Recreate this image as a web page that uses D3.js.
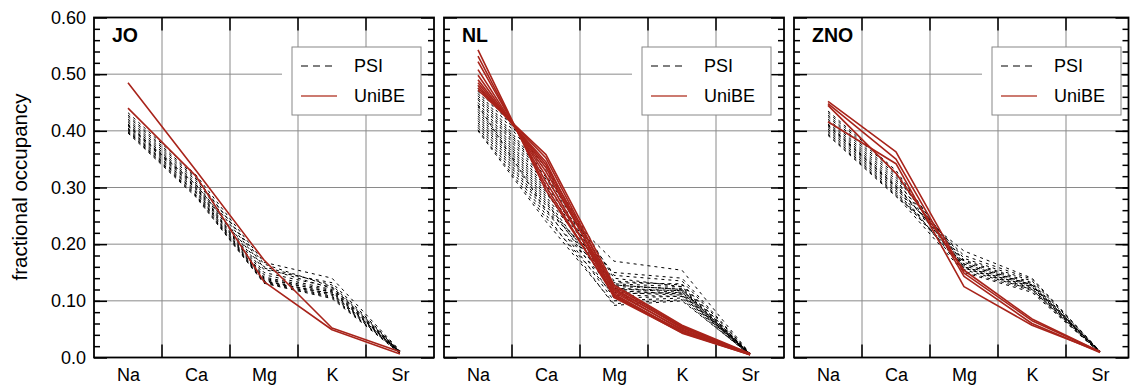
<!DOCTYPE html>
<html><head><meta charset="utf-8">
<script src="https://cdn.jsdelivr.net/npm/d3@7"></script>
<style>
body{margin:0;background:#fff;}
svg{display:block;font-family:"Liberation Sans",Arial,sans-serif;}
</style></head>
<body><svg id="c" width="1130" height="387"></svg>
<script>
const elements = ["Na","Ca","Mg","K","Sr"];
const panelNames = ["JO","NL","ZNO"];
const yTickValues = [0,0.1,0.2,0.3,0.4,0.5,0.6];
const yTickLabels = ["0.0","0.10","0.20","0.30","0.40","0.50","0.60"];
const legendLabels = ["PSI","UniBE"];

const psiJO = [
 [0.432,0.322,0.168,0.140,0.012],[0.428,0.318,0.160,0.128,0.010],[0.425,0.315,0.165,0.125,0.011],
 [0.421,0.312,0.158,0.122,0.009],[0.418,0.308,0.150,0.124,0.010],[0.415,0.305,0.146,0.120,0.008],
 [0.412,0.302,0.142,0.118,0.009],[0.410,0.300,0.140,0.115,0.010],[0.408,0.298,0.138,0.116,0.008],
 [0.405,0.295,0.136,0.112,0.009],[0.403,0.292,0.135,0.110,0.007],[0.401,0.290,0.134,0.113,0.010],
 [0.399,0.287,0.133,0.108,0.008],[0.398,0.285,0.132,0.106,0.009],[0.396,0.283,0.131,0.104,0.007],
 [0.410,0.305,0.155,0.132,0.011]
];
const uniJO = [
 [0.485,0.330,0.172,0.052,0.010],
 [0.440,0.320,0.134,0.049,0.006]
];
const psiNL = [
 [0.480,0.335,0.140,0.125,0.006],[0.475,0.330,0.128,0.120,0.005],[0.470,0.322,0.135,0.128,0.006],
 [0.466,0.318,0.122,0.118,0.005],[0.462,0.315,0.145,0.135,0.007],[0.458,0.310,0.118,0.112,0.005],
 [0.455,0.305,0.130,0.125,0.006],[0.450,0.300,0.125,0.122,0.005],[0.446,0.296,0.112,0.115,0.004],
 [0.442,0.292,0.120,0.118,0.006],[0.438,0.288,0.170,0.154,0.007],[0.434,0.284,0.132,0.130,0.005],
 [0.430,0.280,0.115,0.110,0.006],[0.426,0.276,0.105,0.108,0.005],[0.422,0.272,0.128,0.120,0.006],
 [0.418,0.268,0.122,0.115,0.005],[0.414,0.262,0.100,0.105,0.004],[0.410,0.258,0.118,0.112,0.006],
 [0.406,0.252,0.092,0.100,0.005],[0.402,0.246,0.110,0.108,0.005],[0.400,0.240,0.095,0.102,0.004],
 [0.445,0.260,0.150,0.140,0.007]
];
const uniNL = [
 [0.543,0.295,0.112,0.045,0.006],[0.532,0.302,0.108,0.043,0.005],[0.522,0.310,0.118,0.048,0.006],
 [0.508,0.320,0.110,0.046,0.006],[0.498,0.328,0.122,0.052,0.006],[0.490,0.335,0.115,0.050,0.005],
 [0.485,0.340,0.125,0.055,0.006],[0.480,0.345,0.106,0.044,0.005],[0.476,0.352,0.120,0.054,0.006],
 [0.472,0.358,0.128,0.057,0.007]
];
const psiZNO = [
 [0.435,0.330,0.160,0.125,0.010],[0.432,0.326,0.165,0.128,0.011],[0.428,0.322,0.158,0.122,0.009],
 [0.425,0.318,0.170,0.130,0.010],[0.421,0.314,0.155,0.120,0.008],[0.418,0.310,0.175,0.135,0.011],
 [0.415,0.306,0.162,0.126,0.009],[0.412,0.303,0.168,0.128,0.010],[0.409,0.300,0.152,0.118,0.008],
 [0.406,0.297,0.180,0.138,0.011],[0.403,0.294,0.160,0.124,0.009],[0.400,0.291,0.158,0.120,0.010],
 [0.397,0.288,0.165,0.128,0.009],[0.394,0.286,0.150,0.115,0.008],[0.392,0.284,0.188,0.140,0.011],
 [0.410,0.302,0.172,0.132,0.010]
];
const uniZNO = [
 [0.452,0.363,0.149,0.065,0.010],
 [0.448,0.350,0.143,0.060,0.009],
 [0.445,0.325,0.154,0.068,0.010],
 [0.416,0.342,0.125,0.057,0.010]
];
const psiData = [psiJO, psiNL, psiZNO];
const uniData = [uniJO, uniNL, uniZNO];

const svg = d3.select("#c");
const W = 340, H = 340, topY = 17.5;
const lefts = [94, 444, 794];
const red = "#a8231a";
const gridCol = "#8a8a8a";

const x = d3.scalePoint().domain(elements).range([0, W]).padding(0.5);
const xb = d3.scaleBand().domain(elements).range([0, W]);
const y = d3.scaleLinear().domain([0, 0.6]).range([H, 0]);
const line = d3.line().x((d, i) => x(elements[i])).y(d => y(d));
const minorTicks = d3.range(0, 31).map(i => i * 0.02).filter(v => v > 0.001 && v < 0.599);

panelNames.forEach((name, pi) => {
  const g = svg.append("g").attr("transform", `translate(${lefts[pi]},${topY})`);
  const frameW = Math.min(W, 1128.5 - lefts[pi]);

  yTickValues.filter(v => v > 0 && v < 0.6).forEach(v => {
    g.append("line").attr("x1", 0).attr("x2", v === 0.5 ? 188 : frameW)
      .attr("y1", y(v)).attr("y2", y(v)).attr("stroke", gridCol).attr("stroke-width", 1);
  });
  elements.slice(1).forEach(e => {
    const bx = xb(e);
    g.append("line").attr("x1", bx).attr("x2", bx).attr("y1", 0).attr("y2", H)
      .attr("stroke", gridCol).attr("stroke-width", 1);
    g.append("line").attr("x1", bx).attr("x2", bx).attr("y1", 0).attr("y2", 13)
      .attr("stroke", "#000").attr("stroke-width", 1.5);
    g.append("line").attr("x1", bx).attr("x2", bx).attr("y1", H - 13).attr("y2", H)
      .attr("stroke", "#000").attr("stroke-width", 1.5);
  });

  g.append("g").selectAll("path").data(psiData[pi]).join("path")
    .attr("d", line).attr("fill", "none").attr("stroke", "#000")
    .attr("stroke-width", 1).attr("stroke-dasharray", "3,4");
  g.append("g").selectAll("path").data(uniData[pi]).join("path")
    .attr("d", line).attr("fill", "none").attr("stroke", red)
    .attr("stroke-width", 1.6).attr("stroke-linejoin", "round");

  const ticksG = g.append("g");
  ticksG.append("g").call(d3.axisLeft(y).tickValues(yTickValues).tickSize(-13).tickFormat(""));
  ticksG.append("g").call(d3.axisLeft(y).tickValues(minorTicks).tickSize(-6).tickFormat(""));
  ticksG.append("g").attr("transform", `translate(${frameW},0)`)
    .call(d3.axisRight(y).tickValues(yTickValues).tickSize(-13).tickFormat(""));
  ticksG.append("g").attr("transform", `translate(${frameW},0)`)
    .call(d3.axisRight(y).tickValues(minorTicks).tickSize(-6).tickFormat(""));
  ticksG.selectAll(".domain").remove();
  ticksG.selectAll(".tick line").attr("stroke", "#000").attr("stroke-width", 1.5);

  g.append("rect").attr("x", 0).attr("y", 0).attr("width", frameW).attr("height", H)
    .attr("fill", "none").attr("stroke", "#000").attr("stroke-width", 1.8);

  if (pi === 0) {
    const ya = d3.axisLeft(y).tickValues(yTickValues).tickSize(0).tickPadding(8)
      .tickFormat((d, i) => yTickLabels[i]);
    const gy = g.append("g").call(ya);
    gy.select(".domain").remove();
    gy.selectAll("text").attr("font-size", 18).attr("fill", "#000")
      .attr("font-family", "'Liberation Sans',Arial,sans-serif");
  }
  const xa = d3.axisBottom(x).tickSize(0).tickPadding(11);
  const gx = g.append("g").attr("transform", `translate(0,${H})`).call(xa);
  gx.select(".domain").remove();
  gx.selectAll("text").attr("font-size", 18).attr("fill", "#000")
    .attr("font-family", "'Liberation Sans',Arial,sans-serif");

  g.append("text").attr("x", 18).attr("y", 24.5).text(name)
    .attr("font-size", 19.5).attr("font-weight", "bold").attr("fill", "#000");

  const lg = g.append("g").attr("transform", "translate(198,29.5)");
  lg.append("rect").attr("width", 129).attr("height", 68).attr("fill", "#fff")
    .attr("stroke", "#888").attr("stroke-width", 1);
  lg.append("line").attr("x1", 9).attr("x2", 43).attr("y1", 19).attr("y2", 19)
    .attr("stroke", "#000").attr("stroke-width", 1.1).attr("stroke-dasharray", "7,5");
  lg.append("line").attr("x1", 9).attr("x2", 45).attr("y1", 49).attr("y2", 49)
    .attr("stroke", "#cc7a70").attr("stroke-width", 2);
  legendLabels.forEach((t, i) => {
    lg.append("text").attr("x", 62).attr("y", 19 + i * 30).attr("dy", "0.35em")
      .attr("font-size", 18).attr("fill", "#000").text(t);
  });
});

svg.append("text").attr("transform", "translate(19,187) rotate(-90)")
  .attr("text-anchor", "middle").attr("dominant-baseline", "central")
  .attr("font-size", 20.5).attr("fill", "#000").text("fractional occupancy");
</script></body></html>
